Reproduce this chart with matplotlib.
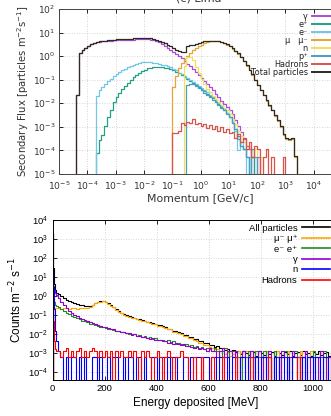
import numpy as np
import matplotlib
matplotlib.use("Agg")
import matplotlib.pyplot as plt
from matplotlib.ticker import LogLocator, NullLocator, FixedLocator

# ---------------- Top panel data (flux per 0.1-decade momentum bin) ----------------
top_title = "(c) Lima"
top_labels = ["\u03b3", "e\u207a", "e\u207b", "\u03bc   \u03bc\u207b", "n", "p\u207a", "Hadrons", "Total particles"]
top_log_edges = np.round(np.arange(-4.4, 3.51, 0.1), 2)   # log10 momentum bin edges [GeV/c]
top_xticks = [1e-5, 1e-4, 1e-3, 1e-2, 1e-1, 1e0, 1e1, 1e2, 1e3, 1e4]

gamma_start = -4.4
gamma_flux = [0.022, 1.3, 1.8, 2.3, 2.8, 3.2, 3.6, 3.9, 4.15, 4.3, 4.45, 4.55, 4.6, 4.65, 4.7, 4.75,
              4.8, 4.85, 4.9, 4.95, 5.0, 5.1, 5.2, 5.25, 5.25, 5.15, 5.0, 4.7, 4.3, 3.8, 3.3, 2.8,
              2.3, 1.9, 1.55, 1.25, 1.0, 0.8, 0.62, 0.48, 0.37, 0.28, 0.21, 0.16, 0.12, 0.09, 0.066,
              0.048, 0.035, 0.025, 0.018, 0.013, 0.0095, 0.007, 0.005, 0.0035, 0.002, 0.0011, 0.0006,
              0.0003, 0.00016, 0.00011, 0.000055, 0, 0.000055]

eplus_start = -3.7
eplus_flux = [0.00008, 0.00027, 0.00045, 0.0011, 0.0025, 0.005, 0.011, 0.018, 0.027, 0.04, 0.055,
              0.075, 0.1, 0.13, 0.16, 0.19, 0.23, 0.26, 0.3, 0.32, 0.34, 0.35, 0.35, 0.34, 0.32, 0.3,
              0.28, 0.25, 0.22, 0.19, 0.16, 0.135, 0.11, 0.09, 0.075, 0.06, 0.049, 0.04, 0.032, 0.026,
              0.021, 0.016, 0.0125, 0.0095, 0.0072, 0.0053, 0.0038, 0.0026, 0.0015, 0.0008, 0.0004,
              0.00016, 0.00011, 0.000055, 0, 0.000055]

eminus_start = -3.7
eminus_flux = [0.02, 0.035, 0.05, 0.065, 0.085, 0.11, 0.14, 0.17, 0.21, 0.25, 0.29, 0.33, 0.37, 0.42,
               0.47, 0.51, 0.54, 0.56, 0.56, 0.55, 0.53, 0.5, 0.47, 0.44, 0.41, 0.37, 0.33, 0.29, 0.25,
               0.2, 0.17, 0.14, 0.12, 0.1, 0.083, 0.068, 0.055, 0.045, 0.036, 0.029, 0.023, 0.018,
               0.014, 0.0105, 0.0078, 0.0056, 0.004, 0.0027, 0.0016, 0.0007, 0.0001, 0.00022, 0.00011,
               0, 0.000055]

muon_start = -1.0
muon_flux = [0.05, 0.15, 0.3, 0.5, 0.75, 1.05, 1.4, 1.8, 2.2, 2.65, 3.1, 3.5, 3.9, 4.2, 4.4, 4.35, 4.2,
             3.9, 3.5, 3.1, 2.6, 2.1, 1.65, 1.25, 0.9, 0.62, 0.4, 0.26, 0.16, 0.095, 0.06, 0.036, 0.022,
             0.013, 0.008, 0.005, 0.003, 0.0018, 0.001, 0.00045, 0.0003, 0.00028, 0.0003, 0.000055]

neutron_start = -0.6
neutron_flux = [0.4, 0.9, 0.95, 0.7, 0.35, 0.2, 0.11, 0.065, 0.042, 0.03, 0.021, 0.015, 0.011, 0.0085,
                0.0065, 0.005, 0.0034, 0.0022, 0.0013, 0.0007, 0.0004, 0.00022, 0.00011, 0.00016,
                0.000055, 0.00011, 0, 0.000055]

proton_start = -0.5
proton_flux = [0.06, 0.068, 0.065, 0.055, 0.045, 0.036, 0.028, 0.022, 0.018, 0.014, 0.011, 0.0085,
               0.0065, 0.005, 0.0036, 0.0025, 0.0015, 0.0008, 0.0003, 0.00016, 0.00011, 0.000055, 0,
               0.00011, 0.000055]

hadron_start = -1.0
hadron_flux = [0.00055, 0.00055, 0.0007, 0.0014, 0.0012, 0.0016, 0.0015, 0.0021, 0.0013, 0.0014, 0.0011,
               0.0013, 0.0009, 0.0012, 0.0008, 0.0011, 0.0007, 0.001, 0.0006, 0.0008, 0.00055, 0.0006,
               0.00033, 0.0005, 0.00022, 0.00033, 0.00011, 0.00022, 0.000055, 0.00016, 0.00011, 0,
               0.000055, 0.00011, 0, 0.000055, 0, 0, 0, 0.000055]

total_start = -4.4
total_flux = [0.022, 1.3, 1.8, 2.3, 2.8, 3.2, 3.6, 3.9, 4.2, 4.4, 4.6, 4.8, 4.9, 5.0, 5.1, 5.2, 5.3, 5.4,
              5.5, 5.6, 5.7, 5.9, 6.0, 6.1, 6.1, 6.0, 5.8, 5.5, 5.0, 4.6, 4.1, 3.5, 3.0, 2.6, 2.2, 1.9,
              1.7, 1.55, 1.5, 2.6, 2.9, 3.1, 3.4, 3.7, 4.0, 4.2, 4.4, 4.5, 4.6, 4.5, 4.3, 4.0, 3.6, 3.2,
              2.7, 2.2, 1.7, 1.3, 0.95, 0.65, 0.42, 0.27, 0.17, 0.10, 0.062, 0.038, 0.023, 0.014,
              0.0085, 0.0052, 0.0031, 0.0019, 0.0011, 0.0005, 0.00035, 0.0003, 0.00033, 0.00006]

# ---------------- Bottom panel data ----------------
bottom_labels = ["All particles", "\u03bc\u207b \u03bc\u207a", "e\u207b e\u207a", "\u03b3", "n", "Hadrons"]
energy_edges = np.concatenate([[0, 2, 4, 6, 8, 10, 15], np.arange(20, 1101, 10)])  # MeV
bottom_xticks = [0, 200, 400, 600, 800, 1000]

all_counts = [2000, 30, 8, 4, 2.8, 2.0, 1.5,
              1.2, 0.95, 0.75, 0.62, 0.52, 0.45, 0.40, 0.37,
              0.34, 0.32, 0.30, 0.29, 0.30, 0.35, 0.42, 0.48, 0.52, 0.53,
              0.48, 0.40, 0.33, 0.26, 0.20, 0.16, 0.13, 0.11, 0.095, 0.085,
              0.077, 0.071, 0.063, 0.060, 0.052, 0.049, 0.044, 0.042, 0.036, 0.035,
              0.030, 0.029, 0.025, 0.024, 0.019, 0.019, 0.015, 0.015, 0.012, 0.011,
              0.0092, 0.0090, 0.0072, 0.0068, 0.0055, 0.0052, 0.0043, 0.0042, 0.0033, 0.0032,
              0.0027, 0.0026, 0.0021, 0.0022, 0.0017, 0.0019, 0.0014, 0.0016, 0.0012, 0.0014,
              0.0011, 0.0013, 0.0009, 0.0012, 0.0010, 0.0008, 0.0012, 0.0011, 0.0007, 0.0012,
              0.0010, 0.0008, 0.0012, 0.0009, 0.0011, 0.0007, 0.0012, 0.0010, 0.0008, 0.0011,
              0.0009, 0.0012, 0.0007, 0.0010, 0.0011, 0.0008, 0.0012, 0.0009, 0.0010, 0.0007,
              0.0011, 0.0009, 0.0012, 0.0008, 0.0010, 0.0011, 0.0007, 0.0012, 0.0009, 0.0010]

muon_counts = [0.22, 0.22, 0.22, 0.22, 0.22, 0.22, 0.22,
               0.22, 0.21, 0.22, 0.22, 0.21, 0.22, 0.22, 0.21,
               0.22, 0.22, 0.23, 0.24, 0.27, 0.33, 0.40, 0.46, 0.50, 0.51,
               0.46, 0.38, 0.31, 0.25, 0.19, 0.15, 0.12, 0.10, 0.088, 0.078,
               0.071, 0.065, 0.058, 0.055, 0.047, 0.045, 0.040, 0.038, 0.033, 0.032,
               0.027, 0.026, 0.022, 0.021, 0.017, 0.017, 0.013, 0.013, 0.0105, 0.0095,
               0.0080, 0.0078, 0.0062, 0.0058, 0.0046, 0.0044, 0.0035, 0.0034, 0.0026, 0.0025,
               0.0020, 0.0019, 0.0015, 0.0016, 0.0012, 0.0013, 0.0009, 0.0011, 0.0007, 0.0009,
               0.0006, 0.0012, 0, 0.0006, 0.0012, 0.0006, 0, 0.0012, 0.0006, 0.0006,
               0, 0.0006, 0.0012, 0.0006, 0, 0.0006, 0.0012, 0, 0.0006, 0.0006,
               0.0012, 0, 0.0006, 0.0006, 0, 0.0012, 0.0006, 0, 0.0006, 0.0012,
               0, 0.0006, 0.0006, 0.0012, 0, 0.0006, 0, 0.0012, 0.0006, 0]

electron_counts = [0.80, 0.60, 0.50, 0.45, 0.40, 0.35, 0.30,
                   0.25, 0.20, 0.16, 0.13, 0.11, 0.090, 0.075, 0.065,
                   0.058, 0.050, 0.045, 0.040, 0.035, 0.032, 0.028, 0.026, 0.024, 0.022,
                   0.020, 0.019, 0.017, 0.016, 0.015, 0.014, 0.012, 0.013, 0.011, 0.010,
                   0.0095, 0.010, 0.0080, 0.0085, 0.0070, 0.0075, 0.0060, 0.0065, 0.0055, 0.0060,
                   0.0050, 0.0045, 0.0050, 0.0040, 0.0045, 0.0035, 0.0040, 0.0030, 0.0035, 0.0030,
                   0.0025, 0.0030, 0.0022, 0.0025, 0.0020, 0.0022, 0.0018, 0.0020, 0.0016, 0.0018,
                   0.0015, 0.0012, 0.0018, 0.0012, 0.0006, 0.0012, 0.0018, 0.0006, 0.0012, 0.0012,
                   0.0012, 0.0006, 0, 0.0012, 0.0006, 0.0012, 0, 0.0006, 0.0012, 0.0006,
                   0, 0.0012, 0.0006, 0.0006, 0, 0.0012, 0.0006, 0, 0.0006, 0.0012,
                   0.0006, 0, 0.0006, 0.0012, 0, 0.0006, 0.0006, 0.0012, 0, 0.0006,
                   0.0012, 0, 0.0006, 0.0006, 0.0012, 0, 0.0006, 0.0006, 0, 0.0012]

gamma_counts = [6.0, 3.5, 2.5, 2.0, 1.7, 1.4, 1.1,
                0.80, 0.50, 0.33, 0.23, 0.17, 0.13, 0.10, 0.085,
                0.070, 0.060, 0.052, 0.045, 0.040, 0.036, 0.032, 0.029, 0.026, 0.024,
                0.022, 0.020, 0.018, 0.017, 0.015, 0.014, 0.013, 0.012, 0.0105, 0.011,
                0.0090, 0.0095, 0.0080, 0.0075, 0.0065, 0.0070, 0.0060, 0.0055, 0.0060, 0.0050,
                0.0045, 0.0050, 0.0040, 0.0042, 0.0035, 0.0038, 0.0030, 0.0033, 0.0028, 0.0025,
                0.0028, 0.0022, 0.0024, 0.0020, 0.0018, 0.0020, 0.0016, 0.0018, 0.0015, 0.0012,
                0.0018, 0.0012, 0.0012, 0.0006, 0.0012, 0.0018, 0.0006, 0.0012, 0.0012, 0.0006,
                0.0012, 0, 0.0006, 0.0012, 0, 0.0006, 0.0012, 0.0006, 0, 0.0012,
                0.0006, 0, 0.0006, 0.0012, 0, 0.0006, 0.0006, 0, 0.0012, 0.0006,
                0, 0.0006, 0.0012, 0.0006, 0, 0.0006, 0, 0.0012, 0.0006, 0,
                0.0006, 0.0006, 0, 0.0012, 0, 0.0006, 0.0006, 0, 0.0006, 0.0012]

neutron_counts = [30, 3.0, 0.8, 0.2, 0.06, 0.015, 0.004,
                  0.0012, 0.0006, 0, 0.0006, 0, 0.0006, 0.0006, 0,
                  0.0006, 0, 0.0006, 0, 0, 0.0006, 0.0006, 0, 0.0006, 0,
                  0, 0.0006, 0, 0.0006, 0.0006, 0, 0, 0.0006, 0, 0.0006,
                  0.0006, 0, 0.0006, 0.0006, 0, 0.0006, 0, 0, 0.0006, 0.0006,
                  0, 0.0006, 0.0006, 0, 0.0006, 0, 0.0006, 0.0006, 0, 0,
                  0.0006, 0.0006, 0, 0.0006, 0, 0.0006, 0.0006, 0, 0.0006, 0.0006,
                  0, 0.0006, 0.0006, 0, 0.0006, 0.0006, 0, 0.0006, 0, 0.0006,
                  0.0006, 0, 0.0006, 0.0006, 0, 0.0006, 0.0006, 0, 0.0006, 0,
                  0.0006, 0.0006, 0, 0.0006, 0, 0.0006, 0, 0.0006, 0.0006, 0,
                  0.0006, 0, 0.0006, 0.0006, 0.0006, 0, 0.0006, 0, 0.0006, 0.0006,
                  0, 0.0006, 0.0006, 0, 0.0006, 0.0006, 0, 0.0006, 0, 0.0006]

hadron_counts = [1.5, 0.05, 0.01, 0.004, 0.002, 0.0015, 0.0012,
                 0.0012, 0.0006, 0.0012, 0.0018, 0.0006, 0.0012, 0.0006, 0.0012,
                 0.0018, 0.0006, 0.0012, 0.0006, 0.0012, 0.0018, 0.0012, 0.0006, 0.0012, 0.0006,
                 0.0012, 0.0006, 0.0012, 0, 0.0012, 0.0006, 0.0012, 0.0006, 0.0006, 0.0012,
                 0.0006, 0.0012, 0.0006, 0, 0.0012, 0.0006, 0.0012, 0.0006, 0, 0.0006,
                 0.0012, 0.0006, 0, 0.0006, 0.0012, 0.0006, 0, 0.0006, 0.0006, 0.0012,
                 0.0006, 0.0006, 0, 0, 0.0006, 0, 0, 0.0006, 0, 0,
                 0, 0.0006, 0, 0, 0, 0.0006, 0, 0, 0, 0,
                 0.0006, 0, 0, 0, 0, 0, 0.0006, 0, 0, 0,
                 0, 0, 0, 0.0006, 0, 0, 0, 0, 0, 0,
                 0, 0, 0, 0, 0.0006, 0, 0, 0, 0, 0,
                 0, 0, 0, 0, 0, 0, 0, 0.0006, 0, 0]

# ---------------- Styles ----------------
top_colors = ["#b04cd6", "#22a184", "#72c6ea", "#e6a532", "#f0e05a", "#4a9ec2", "#d9534b", "#2e2a24"]
bottom_colors = ["#000000", "#ffa500", "#228b22", "#9400d3", "#0000ff", "#ff0000"]
TINY = 1e-12
SANS2 = ["Liberation Sans", "DejaVu Sans"]


def stair_xy(edges, vals):
    vals = np.asarray(vals, dtype=float)
    vals = np.where(vals <= 0, TINY, vals)
    x = np.concatenate([[edges[0]], edges])
    y = np.concatenate([[TINY], vals, [TINY]])
    return x, y


fig = plt.figure(figsize=(3.31, 4.16), dpi=100)

# ---------------- Top panel ----------------
ax1 = fig.add_axes([59 / 331, 1 - 174 / 416, (342 - 59) / 331, 165 / 416])
top_series = [(gamma_start, gamma_flux), (eplus_start, eplus_flux), (eminus_start, eminus_flux),
              (muon_start, muon_flux), (neutron_start, neutron_flux), (proton_start, proton_flux),
              (hadron_start, hadron_flux), (total_start, total_flux)]
for (start, vals), lab, col in zip(top_series, top_labels, top_colors):
    i0 = int(round((start - top_log_edges[0]) / 0.1))
    edges = 10.0 ** top_log_edges[i0:i0 + len(vals) + 1]
    x, y = stair_xy(edges, vals)
    ax1.step(x, y, where="post", color=col, lw=0.9, label=lab)

ax1.set_xscale("log")
ax1.set_yscale("log")
ax1.set_xlim(1e-5, 1e5)
ax1.set_ylim(1e-5, 1e2)
ax1.xaxis.set_major_locator(FixedLocator(top_xticks))
ax1.yaxis.set_major_locator(LogLocator(base=10, numticks=20))
ax1.xaxis.set_minor_locator(NullLocator())
ax1.yaxis.set_minor_locator(NullLocator())
ax1.grid(True, which="major", color="#c8c8c8", lw=0.6, ls=(0, (1, 2)))
ax1.tick_params(direction="in", length=3, width=0.6, labelsize=6.6, top=True, right=True, pad=2.5)
ax1.tick_params(axis="x", pad=4)
for lbl in ax1.get_xticklabels() + ax1.get_yticklabels():
    lbl.set_color("#333333")
ax1.set_xlabel("Momentum [GeV/c]", fontsize=7.8, color="#333333", labelpad=1)
ax1.set_ylabel("Secondary Flux [particles m$^{-2}$s$^{-1}$]", fontsize=7.2, color="#333333", labelpad=1)
for s in ax1.spines.values():
    s.set_linewidth(0.7)
    s.set_color("#444444")
leg1 = ax1.legend(loc="upper right", frameon=False, markerfirst=False, fontsize=5.9,
                  labelspacing=-0.12, handlelength=3.3, handletextpad=0.5, borderaxespad=0.2,
                  borderpad=0.15, bbox_to_anchor=(1.0, 1.0))
for t in leg1.get_texts():
    t.set_ha("right")
    t.set_color("#222222")
for h in leg1.legend_handles:
    h.set_linewidth(1.4)

fig.text(0.6, 1.003, top_title, ha="center", va="center", fontsize=8, color="#333333")

# ---------------- Bottom panel ----------------
ax2 = fig.add_axes([52.5 / 331, 1 - 380 / 416, 286 / 331, 160 / 416])
bottom_series = [all_counts, muon_counts, electron_counts, gamma_counts, neutron_counts, hadron_counts]
for vals, lab, col in zip(bottom_series, bottom_labels, bottom_colors):
    x, y = stair_xy(energy_edges, vals)
    ax2.step(x, y, where="post", color=col, lw=0.8, label=lab)

ax2.set_yscale("log")
ax2.set_xlim(0, 1100)
ax2.set_ylim(3.7e-5, 1e4)
ax2.set_xticks(bottom_xticks)
ax2.yaxis.set_major_locator(LogLocator(base=10, numticks=20))
ax2.yaxis.set_minor_locator(NullLocator())
ax2.grid(True, which="major", color="#c8c8c8", lw=0.6, ls=(0, (1, 2)))
ax2.tick_params(direction="in", length=3, width=0.6, labelsize=6.8, top=True, right=True, pad=3)
for lbl in ax2.get_xticklabels() + ax2.get_yticklabels():
    lbl.set_family("Liberation Sans")
ax2.set_xlabel("Energy deposited [MeV]", fontsize=8.5, family="Liberation Sans", labelpad=3)
ax2.set_ylabel("Counts m$^{-2}$ s$^{-1}$", fontsize=8.5, family="Liberation Sans", labelpad=3)
for s in ax2.spines.values():
    s.set_linewidth(0.7)
leg2 = ax2.legend(loc="upper right", frameon=False, markerfirst=False,
                  prop={"family": SANS2, "size": 6.8},
                  labelspacing=0.15, handlelength=3.0, handletextpad=0.5, borderaxespad=0.2,
                  borderpad=0.2, bbox_to_anchor=(0.985, 1.0))
for t in leg2.get_texts():
    t.set_ha("right")
for h in leg2.legend_handles:
    h.set_linewidth(1.2)

fig.savefig("out.png", dpi=100)
